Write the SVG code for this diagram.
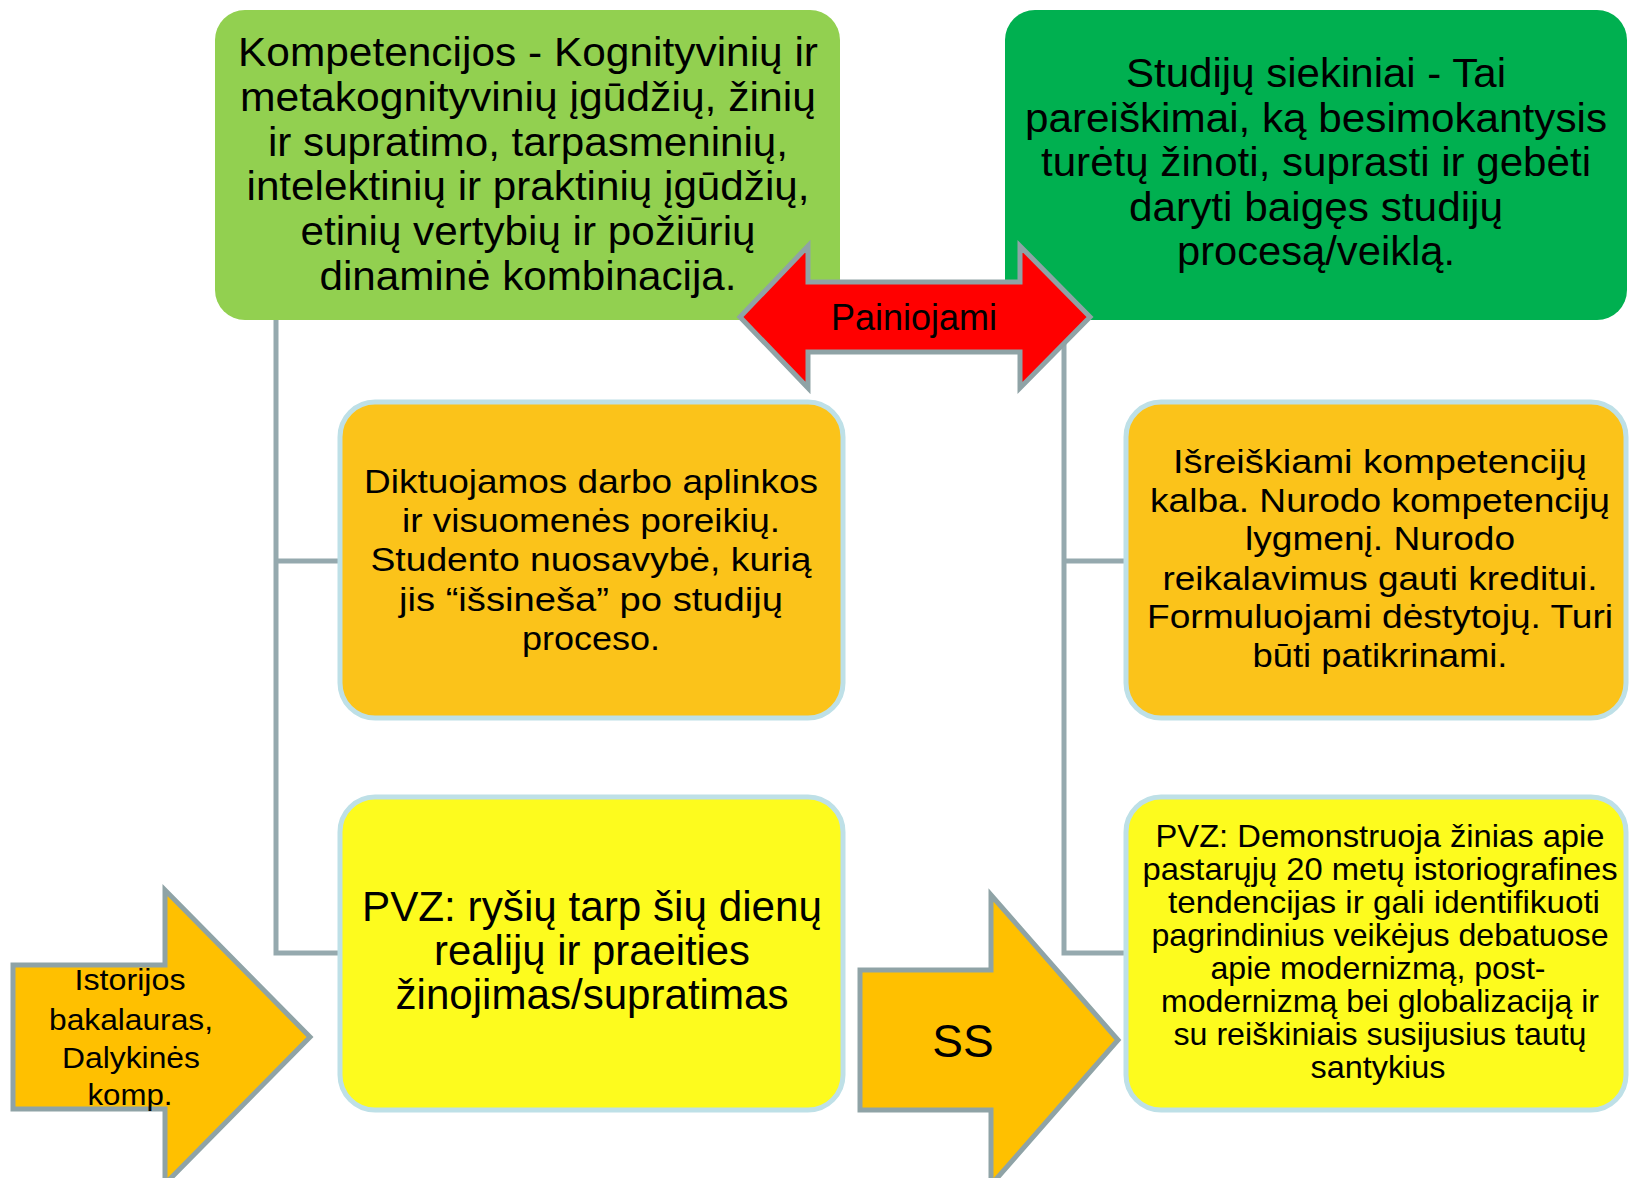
<svg xmlns="http://www.w3.org/2000/svg" width="1629" height="1178" viewBox="0 0 1629 1178">
<style>
text{font-family:"Liberation Sans",Arial,sans-serif;fill:#000;text-anchor:middle}
.conn{fill:none;stroke:#95A9AE;stroke-width:5}
.box{stroke:#BEE0E7;stroke-width:5}
.arrow{stroke:#8FA3A6;stroke-width:5;stroke-linejoin:miter}
.t41{font-size:41px}
.t34{font-size:34px}
.t42{font-size:42px}
.t32{font-size:32px}
.t30{font-size:30px}
</style>
<rect width="1629" height="1178" fill="#FFFFFF"/>
<g id="connectors">
  <path class="conn" d="M276,320 V953 H340 M276,561 H340"/>
  <path class="conn" d="M1064,320 V953 H1127 M1064,561 H1127"/>
</g>
<g id="kompetencijos">
  <rect x="215" y="10" width="625" height="310" rx="30" fill="#92D050"/>
  <text class="t41" x="528" y="66" textLength="580" lengthAdjust="spacingAndGlyphs">Kompetencijos - Kognityvinių ir</text>
  <text class="t41" x="528" y="111" textLength="576" lengthAdjust="spacingAndGlyphs">metakognityvinių įgūdžių, žinių</text>
  <text class="t41" x="528" y="156" textLength="520" lengthAdjust="spacingAndGlyphs">ir supratimo, tarpasmeninių,</text>
  <text class="t41" x="528" y="200" textLength="563" lengthAdjust="spacingAndGlyphs">intelektinių ir praktinių įgūdžių,</text>
  <text class="t41" x="528" y="245" textLength="455" lengthAdjust="spacingAndGlyphs">etinių vertybių ir požiūrių</text>
  <text class="t41" x="528" y="290" textLength="417" lengthAdjust="spacingAndGlyphs">dinaminė kombinacija.</text>
</g>
<g id="studiju-siekiniai">
  <rect x="1005" y="10" width="622" height="310" rx="30" fill="#00B050"/>
  <text class="t41" x="1316" y="87" textLength="380" lengthAdjust="spacingAndGlyphs">Studijų siekiniai - Tai</text>
  <text class="t41" x="1316" y="132" textLength="582" lengthAdjust="spacingAndGlyphs">pareiškimai, ką besimokantysis</text>
  <text class="t41" x="1316" y="176" textLength="550" lengthAdjust="spacingAndGlyphs">turėtų žinoti, suprasti ir gebėti</text>
  <text class="t41" x="1316" y="221" textLength="374" lengthAdjust="spacingAndGlyphs">daryti baigęs studijų</text>
  <text class="t41" x="1316" y="265" textLength="278" lengthAdjust="spacingAndGlyphs">procesą/veiklą.</text>
</g>
<g id="painiojami">
  <polygon class="arrow" fill="#FF0000" points="740,317 808,246 808,282 1020,282 1020,246 1090,317 1020,388 1020,352 808,352 808,388"/>
  <text x="914" y="330" style="font-size:36px">Painiojami</text>
</g>
<g id="diktuojamos">
  <rect class="box" x="340" y="402" width="503" height="316" rx="35" fill="#FBC31A"/>
  <text class="t34" x="591" y="493" textLength="454" lengthAdjust="spacingAndGlyphs">Diktuojamos darbo aplinkos</text>
  <text class="t34" x="591" y="532" textLength="378" lengthAdjust="spacingAndGlyphs">ir visuomenės poreikių.</text>
  <text class="t34" x="591" y="571" textLength="441" lengthAdjust="spacingAndGlyphs">Studento nuosavybė, kurią</text>
  <text class="t34" x="591" y="611" textLength="384" lengthAdjust="spacingAndGlyphs">jis “išsineša”  po studijų</text>
  <text class="t34" x="591" y="650" textLength="138" lengthAdjust="spacingAndGlyphs">proceso.</text>
</g>
<g id="isreiskiami">
  <rect class="box" x="1126" y="402" width="500" height="316" rx="35" fill="#FBC31A"/>
  <text class="t34" x="1380" y="473" textLength="414" lengthAdjust="spacingAndGlyphs">Išreiškiami  kompetencijų</text>
  <text class="t34" x="1380" y="512" textLength="460" lengthAdjust="spacingAndGlyphs">kalba. Nurodo kompetencijų</text>
  <text class="t34" x="1380" y="550" textLength="270" lengthAdjust="spacingAndGlyphs">lygmenį. Nurodo</text>
  <text class="t34" x="1380" y="590" textLength="435" lengthAdjust="spacingAndGlyphs">reikalavimus gauti kreditui.</text>
  <text class="t34" x="1380" y="628" textLength="466" lengthAdjust="spacingAndGlyphs">Formuluojami dėstytojų. Turi</text>
  <text class="t34" x="1380" y="667" textLength="255" lengthAdjust="spacingAndGlyphs">būti patikrinami.</text>
</g>
<g id="pvz-kairė">
  <rect class="box" x="340" y="797" width="503" height="313" rx="35" fill="#FDFB1E"/>
  <text class="t42" x="592" y="921" textLength="460" lengthAdjust="spacingAndGlyphs">PVZ: ryšių tarp šių dienų</text>
  <text class="t42" x="592" y="965" textLength="316" lengthAdjust="spacingAndGlyphs">realijų ir praeities</text>
  <text class="t42" x="592" y="1009" textLength="393" lengthAdjust="spacingAndGlyphs">žinojimas/supratimas</text>
</g>
<g id="pvz-dešinė">
  <rect class="box" x="1126" y="797" width="500" height="313" rx="35" fill="#FDFB1E"/>
  <text class="t32" x="1380" y="847" textLength="449" lengthAdjust="spacingAndGlyphs">PVZ: Demonstruoja  žinias apie</text>
  <text class="t32" x="1380" y="880" textLength="475" lengthAdjust="spacingAndGlyphs">pastarųjų 20 metų  istoriografines</text>
  <text class="t32" x="1384" y="913" textLength="432" lengthAdjust="spacingAndGlyphs">tendencijas ir gali identifikuoti</text>
  <text class="t32" x="1380" y="946" textLength="457" lengthAdjust="spacingAndGlyphs">pagrindinius veikėjus debatuose</text>
  <text class="t32" x="1378" y="979" textLength="335" lengthAdjust="spacingAndGlyphs">apie modernizmą, post-</text>
  <text class="t32" x="1380" y="1012" textLength="438" lengthAdjust="spacingAndGlyphs">modernizmą bei globalizaciją ir</text>
  <text class="t32" x="1380" y="1045" textLength="413" lengthAdjust="spacingAndGlyphs">su reiškiniais susijusius tautų</text>
  <text class="t32" x="1378" y="1078" textLength="135" lengthAdjust="spacingAndGlyphs">santykius</text>
</g>
<g id="istorijos-bakalauras">
  <polygon class="arrow" fill="#FFC000" points="13,965 165,965 165,890 310,1037 165,1184 165,1109 13,1109"/>
  <text class="t30" x="130" y="990" textLength="111" lengthAdjust="spacingAndGlyphs">Istorijos</text>
  <text class="t30" x="131" y="1030" textLength="164" lengthAdjust="spacingAndGlyphs">bakalauras,</text>
  <text class="t30" x="131" y="1068" textLength="138" lengthAdjust="spacingAndGlyphs">Dalykinės</text>
  <text class="t30" x="130" y="1105" textLength="85" lengthAdjust="spacingAndGlyphs">komp.</text>
</g>
<g id="ss">
  <polygon class="arrow" fill="#FFC000" points="860,970 991,970 991,895 1118,1040 991,1185 991,1110 860,1110"/>
  <text x="963" y="1057" style="font-size:46px">SS</text>
</g>
</svg>
